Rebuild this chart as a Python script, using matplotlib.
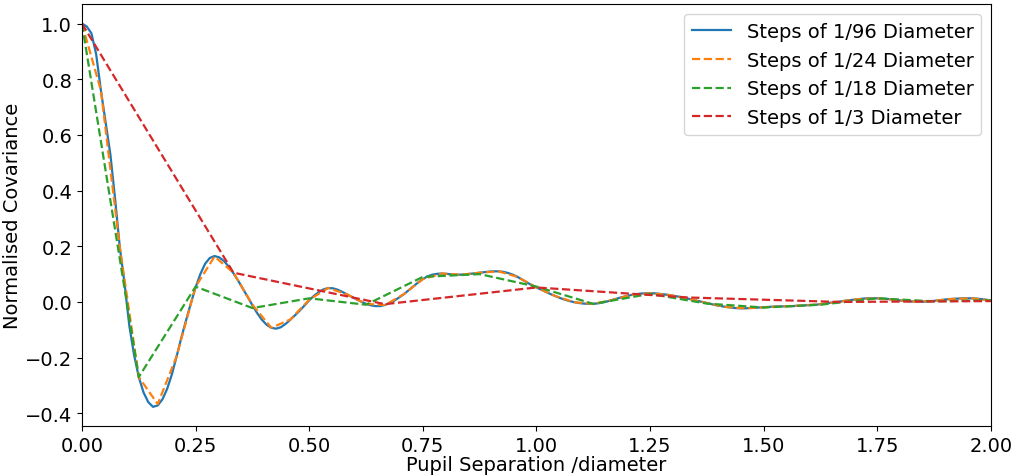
import numpy as np
import matplotlib; matplotlib.use("Agg")
import matplotlib.pyplot as plt

# normalised covariance, at each sampling step
cov_96 = [1.000, 0.990, 0.965, 0.890, 0.760, 0.645, 0.530, 0.370, 0.195, 0.065,
          -0.085, -0.190, -0.270, -0.325, -0.360, -0.377, -0.372, -0.350, -0.312, -0.260,
          -0.195, -0.128, -0.065, -0.005, 0.052, 0.100, 0.137, 0.158, 0.165, 0.160,
          0.147, 0.127, 0.103, 0.076, 0.047, 0.018, -0.012, -0.040, -0.064, -0.082,
          -0.093, -0.096, -0.091, -0.079, -0.064, -0.048, -0.031, -0.013, 0.006, 0.022,
          0.035, 0.045, 0.050, 0.049, 0.044, 0.036, 0.027, 0.018, 0.009, 0.001,
          -0.007, -0.012, -0.015, -0.015, -0.011, -0.004, 0.005, 0.016, 0.028, 0.042,
          0.056, 0.070, 0.082, 0.092, 0.098, 0.101, 0.102, 0.101, 0.099, 0.098,
          0.098, 0.099, 0.101, 0.103, 0.105, 0.107, 0.109, 0.110, 0.110, 0.108,
          0.104, 0.098, 0.090, 0.080, 0.070, 0.060, 0.052, 0.044, 0.036, 0.028,
          0.021, 0.014, 0.008, 0.003, -0.001, -0.004, -0.006, -0.007, -0.007, -0.005,
          -0.002, 0.002, 0.007, 0.012, 0.017, 0.021, 0.025, 0.028, 0.030, 0.031,
          0.031, 0.031, 0.029, 0.027, 0.025, 0.022, 0.019, 0.016, 0.012, 0.008,
          0.004, 0.000, -0.004, -0.008, -0.012, -0.015, -0.018, -0.020, -0.022, -0.023,
          -0.023, -0.022, -0.021, -0.020, -0.019, -0.018, -0.017, -0.016, -0.016, -0.015,
          -0.015, -0.014, -0.013, -0.012, -0.011, -0.010, -0.008, -0.006, -0.003, -0.001,
          0.001, 0.004, 0.006, 0.008, 0.010, 0.012, 0.013, 0.013, 0.013, 0.012,
          0.011, 0.009, 0.007, 0.005, 0.004, 0.002, 0.001, 0.001, 0.001, 0.002,
          0.004, 0.006, 0.008, 0.010, 0.011, 0.012, 0.013, 0.013, 0.013, 0.012,
          0.010, 0.008, 0.005]
cov_24 = [1.000, 0.760, 0.195, -0.270, -0.367, -0.195, 0.055, 0.163, 0.105, -0.010,
          -0.093, -0.063, 0.008, 0.050, 0.027, -0.007, -0.011, 0.028, 0.082, 0.102,
          0.098, 0.105, 0.110, 0.090, 0.052, 0.021, -0.001, -0.007, 0.007, 0.025,
          0.031, 0.025, 0.012, -0.004, -0.018, -0.023, -0.019, -0.016, -0.013, -0.008,
          0.001, 0.010, 0.013, 0.007, 0.001, 0.004, 0.011, 0.013, 0.005]
cov_18 = [1.000, -0.270, 0.055, -0.022, 0.013, -0.010, 0.090, 0.100, 0.055,
          -0.007, 0.029, -0.006, -0.020, -0.010, 0.013, 0.002, 0.006]
cov_3 = [1.000, 0.105, -0.008, 0.052, 0.016, 0.000, 0.003]

sep_96 = np.linspace(0, 2, len(cov_96))
sep_24 = np.linspace(0, 2, len(cov_24))
sep_18 = np.linspace(0, 2, len(cov_18))
sep_3 = np.linspace(0, 2, len(cov_3))

plt.rcParams['font.size'] = 14
fig = plt.figure(figsize=(10.17, 4.77), dpi=100)
ax = fig.add_axes([0.0806, 0.1048, 0.8938, 0.8837])
ax.plot(sep_96, cov_96, '-', color='tab:blue', lw=1.6, label='Steps of 1/96 Diameter')
ax.plot(sep_24, cov_24, '--', color='tab:orange', lw=1.6, label='Steps of 1/24 Diameter')
ax.plot(sep_18, cov_18, '--', color='tab:green', lw=1.6, label='Steps of 1/18 Diameter')
ax.plot(sep_3, cov_3, '--', color='tab:red', lw=1.6, label='Steps of 1/3 Diameter')
ax.set_xlim(0, 2)
ax.set_xlabel('Pupil Separation /diameter', labelpad=0)
ax.set_ylabel('Normalised Covariance', labelpad=2)
ax.legend(loc='upper right')
fig.savefig('out.png', dpi=100)
